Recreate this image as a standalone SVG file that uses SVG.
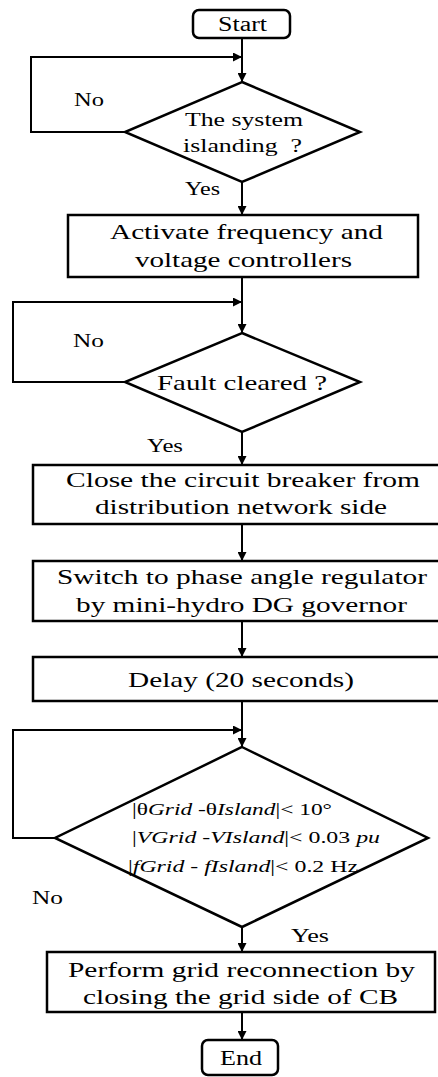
<svg xmlns="http://www.w3.org/2000/svg" width="438" height="1077" viewBox="0 0 438 1077" font-family="Liberation Serif, serif">
<style>
.shape{fill:#fff;stroke:#000;stroke-width:2.5}
.conn{fill:none;stroke:#000;stroke-width:2}
.t,.lbl,.d3{font-family:"Liberation Serif",serif;fill:#000}
.t{font-size:21px;text-anchor:middle}
.lbl{font-size:19px}
.d3{font-size:17px}
.i{font-style:italic}
</style>
<defs>
<marker id="ah" viewBox="0 0 10 10" refX="10" refY="5" markerWidth="10" markerHeight="9" markerUnits="userSpaceOnUse" orient="auto">
<path d="M0,0 L10,5 L0,10 z" fill="#000"/>
</marker>
</defs>
<rect width="438" height="1077" fill="#fff"/>
<g id="connectors">
<line class="conn" x1="242" y1="38" x2="242" y2="82" marker-end="url(#ah)"/>
<polyline class="conn" points="125,132 31,132 31,57 242,57" marker-end="url(#ah)"/>
<line class="conn" x1="242" y1="182" x2="242" y2="215" marker-end="url(#ah)"/>
<line class="conn" x1="242" y1="277" x2="242" y2="333" marker-end="url(#ah)"/>
<polyline class="conn" points="125,382 13,382 13,302 242,302" marker-end="url(#ah)"/>
<line class="conn" x1="242" y1="432" x2="242" y2="465" marker-end="url(#ah)"/>
<line class="conn" x1="242" y1="524" x2="242" y2="561" marker-end="url(#ah)"/>
<line class="conn" x1="242" y1="621" x2="242" y2="657" marker-end="url(#ah)"/>
<line class="conn" x1="242" y1="701" x2="242" y2="747" marker-end="url(#ah)"/>
<polyline class="conn" points="55,838 13,838 13,730 242,730" marker-end="url(#ah)"/>
<line class="conn" x1="242" y1="927" x2="242" y2="952" marker-end="url(#ah)"/>
<line class="conn" x1="242" y1="1012" x2="242" y2="1040" marker-end="url(#ah)"/>
<text class="lbl" x="74" y="106" textLength="30" lengthAdjust="spacingAndGlyphs">No</text>
<text class="lbl" x="185" y="195" textLength="35" lengthAdjust="spacingAndGlyphs">Yes</text>
<text class="lbl" x="73" y="347" textLength="31" lengthAdjust="spacingAndGlyphs">No</text>
<text class="lbl" x="147" y="452" textLength="36" lengthAdjust="spacingAndGlyphs">Yes</text>
<text class="lbl" x="32" y="904" textLength="31" lengthAdjust="spacingAndGlyphs">No</text>
<text class="lbl" x="291" y="942" textLength="38" lengthAdjust="spacingAndGlyphs">Yes</text>
</g>
<g id="start">
<rect class="shape" x="193" y="10" width="97" height="28" rx="6"/>
<text class="t" x="242.5" y="31" style="font-size:20px" textLength="49" lengthAdjust="spacingAndGlyphs">Start</text>
</g>
<g id="islanding">
<polygon class="shape" points="242,82 360,132 242,182 125,132"/>
<text class="t" x="244" y="126" style="font-size:19px" textLength="118" lengthAdjust="spacingAndGlyphs">The system</text>
<text class="t" x="242.5" y="152" style="font-size:19px" textLength="119" lengthAdjust="spacingAndGlyphs" xml:space="preserve">islanding  ?</text>
</g>
<g id="activate">
<rect class="shape" x="68" y="215" width="350" height="62"/>
<text class="t" x="246.5" y="239" textLength="273" lengthAdjust="spacingAndGlyphs">Activate frequency and</text>
<text class="t" x="243.5" y="267" textLength="217" lengthAdjust="spacingAndGlyphs">voltage controllers</text>
</g>
<g id="fault">
<polygon class="shape" points="242,333 360,382 242,432 125,382"/>
<text class="t" x="242" y="390" style="font-size:22px" textLength="170" lengthAdjust="spacingAndGlyphs">Fault cleared ?</text>
</g>
<g id="closecb">
<rect class="shape" x="33" y="465" width="410" height="59"/>
<text class="t" x="243" y="487" textLength="354" lengthAdjust="spacingAndGlyphs">Close the circuit breaker from</text>
<text class="t" x="241" y="514" textLength="292" lengthAdjust="spacingAndGlyphs">distribution network side</text>
</g>
<g id="switch">
<rect class="shape" x="33" y="561" width="410" height="60"/>
<text class="t" x="242" y="584" textLength="370" lengthAdjust="spacingAndGlyphs">Switch to phase angle regulator</text>
<text class="t" x="241.5" y="612" textLength="331" lengthAdjust="spacingAndGlyphs">by mini-hydro DG governor</text>
</g>
<g id="delay">
<rect class="shape" x="33" y="657" width="410" height="44"/>
<text class="t" x="241" y="687" textLength="226" lengthAdjust="spacingAndGlyphs">Delay (20 seconds)</text>
</g>
<g id="sync">
<polygon class="shape" points="242,747 428,838 242,927 55,838"/>
<text class="d3" x="132" y="815" textLength="200" lengthAdjust="spacingAndGlyphs">|θ<tspan class="i">Grid</tspan> -θ<tspan class="i">Island</tspan>|&lt; 10°</text>
<text class="d3" x="132" y="843" textLength="248" lengthAdjust="spacingAndGlyphs">|<tspan class="i">VGrid</tspan> -<tspan class="i">VIsland</tspan>|&lt; 0.03 <tspan class="i">pu</tspan></text>
<text class="d3" x="128" y="872" textLength="230" lengthAdjust="spacingAndGlyphs">|<tspan class="i">fGrid</tspan> - <tspan class="i">fIsland</tspan>|&lt; 0.2 Hz</text>
</g>
<g id="reconnect">
<rect class="shape" x="47" y="952" width="388" height="60"/>
<text class="t" x="241.5" y="977" textLength="347" lengthAdjust="spacingAndGlyphs">Perform grid reconnection by</text>
<text class="t" x="240.5" y="1004" textLength="315" lengthAdjust="spacingAndGlyphs">closing the grid side of CB</text>
</g>
<g id="end">
<rect class="shape" x="202" y="1040" width="76" height="35" rx="6"/>
<text class="t" x="241" y="1065" style="font-size:20px" textLength="42" lengthAdjust="spacingAndGlyphs">End</text>
</g>
</svg>
